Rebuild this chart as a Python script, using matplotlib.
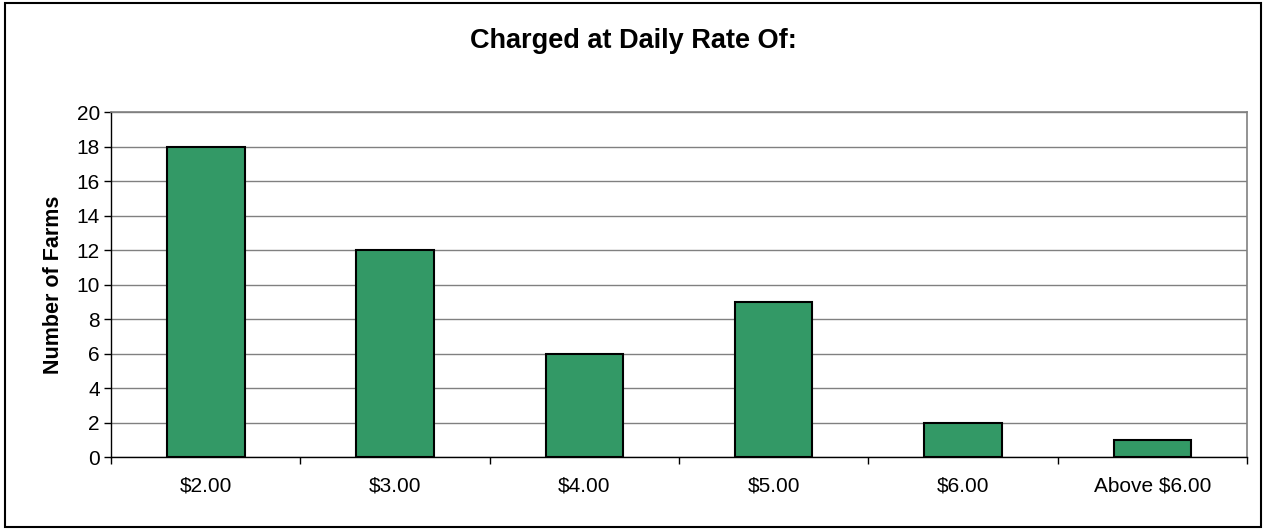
import matplotlib.pyplot as plt
from matplotlib.patches import Rectangle

plt.rcParams['font.family'] = ['Liberation Sans', 'DejaVu Sans']

rates = ["$2.00", "$3.00", "$4.00", "$5.00", "$6.00", "Above $6.00"]
farms = [18, 12, 6, 9, 2, 1]

fig = plt.figure(figsize=(12.66, 5.29), dpi=100)
ax = fig.add_axes([0.0877, 0.136, 0.8973, 0.652])

x = range(len(rates))
ax.bar(x, farms, width=0.41, color="#339966", edgecolor="black", linewidth=1.5, zorder=3)

ax.set_xlim(-0.5, len(rates) - 0.5)
ax.set_ylim(0, 20)
ax.set_yticks(range(0, 21, 2))
ax.tick_params(axis="y", labelsize=15, length=5, width=1, direction="out", pad=3)

# category labels centred under bars, tick marks between categories
ax.set_xticks(list(x))
ax.set_xticklabels(rates, fontsize=15)
ax.tick_params(axis="x", which="major", length=0, pad=14)
ax.set_xticks([i - 0.5 for i in range(len(rates) + 1)], minor=True)
ax.tick_params(axis="x", which="minor", length=5, width=1, direction="out")

ax.grid(axis="y", color="#808080", linewidth=1, zorder=0)
for side in ["top", "right"]:
    ax.spines[side].set_color("#808080")
    ax.spines[side].set_linewidth(1.2)
for side in ["left", "bottom"]:
    ax.spines[side].set_color("black")
    ax.spines[side].set_linewidth(1)

ax.set_ylabel("Number of Farms", fontsize=15.5, fontweight="bold", labelpad=9)
fig.text(0.5, 0.922, "Charged at Daily Rate Of:", ha="center", va="center",
         fontsize=19.5, fontweight="bold")

# outer chart border
fig.patches.append(Rectangle((0.004, 0.004), 0.992, 0.99, transform=fig.transFigure,
                             fill=False, edgecolor="black", linewidth=1.5))

fig.savefig("out.png", dpi=100)
